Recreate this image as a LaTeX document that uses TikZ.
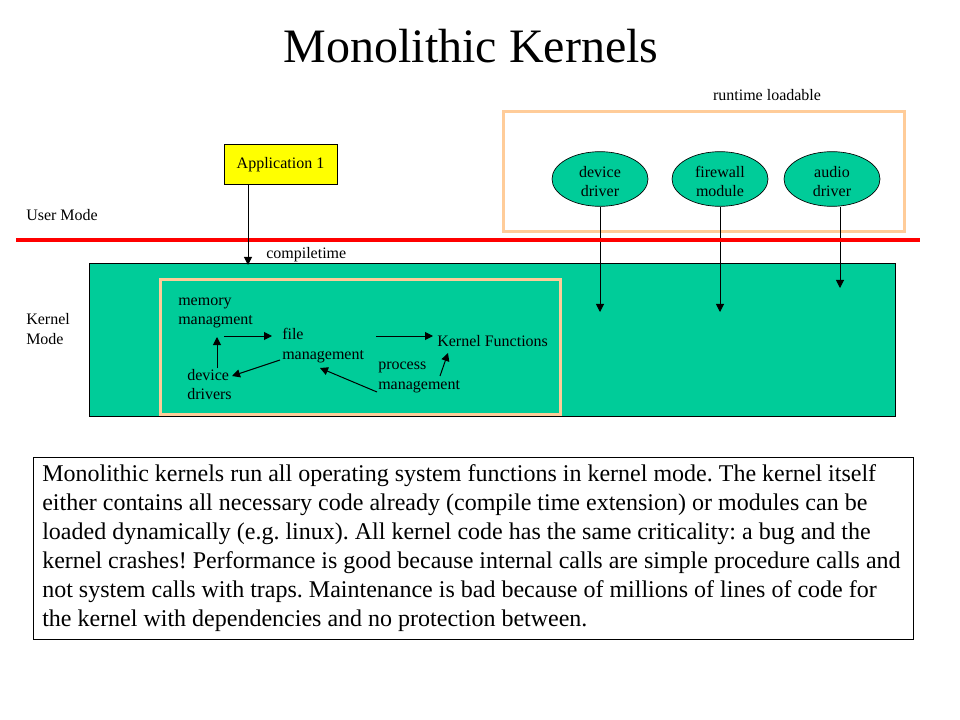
\documentclass[tikz,border=0pt]{standalone}
\usepackage{fontspec}
\setmainfont{Liberation Serif}
\usetikzlibrary{arrows.meta,shapes.geometric}
\definecolor{kgreen}{HTML}{00CC99}
\definecolor{peach}{HTML}{FFCC99}
\definecolor{ared}{HTML}{FF0000}
\definecolor{ayellow}{HTML}{FFFF00}
\frenchspacing
\newcommand{\twoline}[2]{\raisebox{-6pt}[0pt][0pt]{\begin{tabular}{@{}c@{}}#1\\#2\end{tabular}}}
\begin{document}
\begin{tikzpicture}[x=0.75pt,y=-0.75pt,
  lbl/.style={inner sep=0pt,font=\fontsize{12}{14.5}\selectfont,align=left},
  arr/.style={line width=0.75pt,-{Triangle[length=6pt,width=6pt]}},
  groupbox/.style={draw=peach,line width=2.25pt},
  module/.style={ellipse,draw=black,line width=0.5pt,fill=kgreen,minimum width=72pt,minimum height=41pt,inner sep=0pt,font=\fontsize{12}{14.25}\selectfont}]
\useasboundingbox (0,0) rectangle (960,720);
\fill[white] (0,0) rectangle (960,720);

% title
\node[anchor=base,inner sep=0pt,font=\fontsize{36}{40}\selectfont] (title) at (471,63) {Monolithic Kernels};

% runtime loadable group
\node[lbl,anchor=center] (rtl) at (767,95) {runtime loadable};
\draw[groupbox] (503,112) rectangle (904,232);
\node[module] (dd) at (600,179) {\twoline{device}{driver}};
\node[module] (fw) at (720,179) {\twoline{firewall}{module}};
\node[module] (ad) at (832,179) {\twoline{audio}{driver}};

% application
\node[draw=black,line width=0.75pt,fill=ayellow,minimum width=84.75pt,minimum height=30pt,inner sep=0pt,font=\fontsize{12}{14}\selectfont] (app) at (280.5,164.5) {\raisebox{-2pt}{Application 1}};

% modes
\node[lbl,anchor=west] (um) at (26,215) {User Mode};
\node[lbl,anchor=west] (km) at (26,329) {Kernel\\Mode};
\node[lbl,anchor=west] (ct) at (266,255) {compiletime};

% kernel area
\draw[fill=kgreen,draw=black,line width=0.75pt] (89,264) rectangle (895,416);
\coordinate (kdd) at (600,312);
\coordinate (kfw) at (720,312);
\coordinate (kad) at (840,288);
\draw[arr] (dd.south) -- (kdd);
\draw[arr] (fw.south) -- (kfw);
\draw[arr] (ad.south -| kad) -- (kad);

% red separator
\coordinate (sepL) at (16,240);
\coordinate (sepR) at (920,240);
\draw[ared,line width=3pt] (sepL) -- (sepR);

% app arrow
\coordinate (appk) at (248,265);
\draw[arr] (app.south -| appk) -- (appk);

% compile time group
\draw[groupbox] (160,280) rectangle (560,414);
\node[lbl,anchor=west] (mem) at (178,313) {memory\\managment};
\node[lbl,anchor=west] (file) at (282,345.5) {file\\management};
\node[lbl,anchor=west] (kf) at (437,341) {Kernel Functions};
\node[lbl,anchor=west] (proc) at (378,377.5) {process\\management};
\node[lbl,anchor=west] (dev) at (187,384.5) {device\\drivers};

\coordinate (m1) at (224,336); \coordinate (f1) at (272,336);
\coordinate (f2) at (376,336); \coordinate (k2) at (433,336);
\coordinate (p3) at (440,376); \coordinate (k3) at (448,353);
\coordinate (p4) at (377,392); \coordinate (f4) at (320,368);
\coordinate (f5) at (280,360); \coordinate (d5) at (232,376);
\coordinate (d6) at (217,368); \coordinate (m6) at (217,337);
\draw[arr] (m1) -- (f1);
\draw[arr] (f2) -- (k2);
\draw[arr] (p3) -- (k3);
\draw[arr] (p4) -- (f4);
\draw[arr] (f5) -- (d5);
\draw[arr] (d6) -- (m6);

% description
\node[draw=black,line width=0.75pt,minimum width=660pt,minimum height=136.5pt,inner sep=0pt] (desc) at (473,548) {};
\node[anchor=west,inner sep=0pt,align=left,font=\fontsize{18}{21.75}\selectfont] (desctext) at (42,548.5)
{Monolithic kernels run all operating system functions in kernel mode. The kernel itself\\
either contains all necessary code already (compile time extension) or modules can be\\
loaded dynamically (e.g. linux). All kernel code has the same criticality: a bug and the\\
kernel crashes! Performance is good because internal calls are simple procedure calls and\\
not system calls with traps. Maintenance is bad because of millions of lines of code for\\
the kernel with dependencies and no protection between.};
\end{tikzpicture}
\end{document}
